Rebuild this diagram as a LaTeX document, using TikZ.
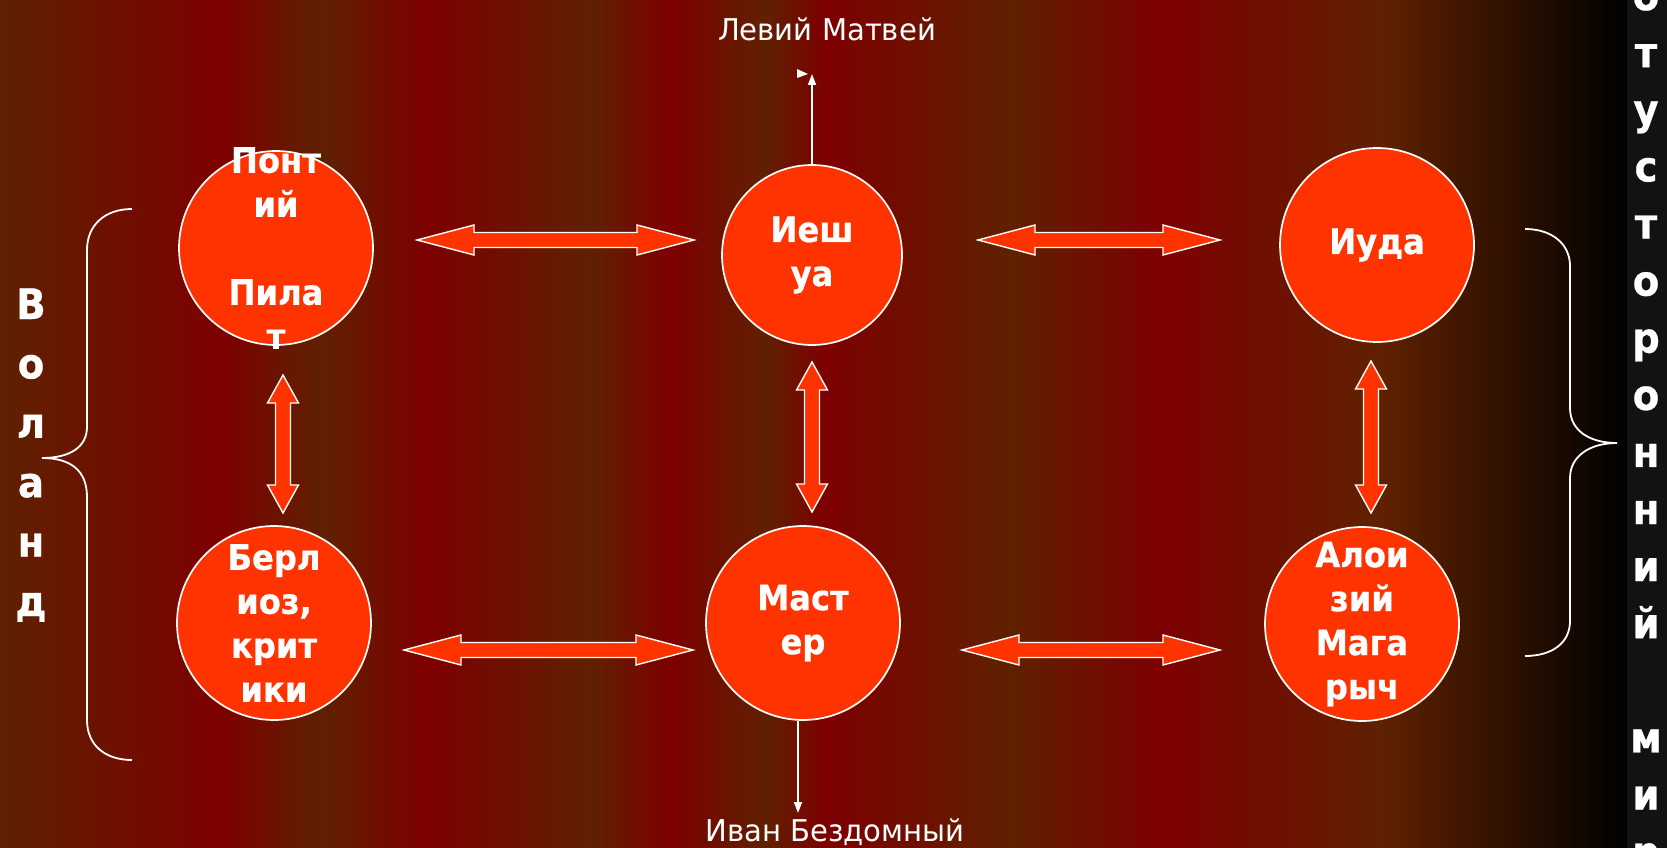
\documentclass[tikz,border=0pt]{standalone}
\usepackage{fontspec}
\usepackage{xcolor}
\usepackage{tikz}
\usetikzlibrary{arrows.meta,calc}
\newfontfamily\tahoma[FakeStretch=0.92,BoldFeatures={FakeBold=0.6}]{DejaVu Sans}
\newfontfamily\tahomareg[FakeStretch=0.97]{DejaVu Sans}
\definecolor{bgbrown}{RGB}{95,33,0}
\definecolor{bgred}{RGB}{125,0,0}
\definecolor{disc}{RGB}{255,51,0}
\definecolor{strip}{RGB}{18,18,18}
\tikzset{
  person/.style={circle,fill=disc,draw=white,line width=1.7pt,minimum size=194pt,inner sep=0pt},
  persontext/.style={text=white,align=center,font=\tahoma\bfseries\fontsize{35}{44}\selectfont},
  blockarrow/.style={fill=disc,draw=white,line width=1.4pt,line join=miter},
  wline/.style={white,line width=1.8pt},
  bigletter/.style={text=white,anchor=base,font=\tahoma\bfseries\fontsize{42}{42}\selectfont},
  caption/.style={text=white,anchor=base,font=\tahomareg\fontsize{30}{34}\selectfont}
}
% block arrows with two heads
\newcommand{\harrow}[2]{\draw[blockarrow] (#1) -- ($(#1)+(57,15)$) -- ($(#1)+(57,7.5)$)
  -- ($(#2)+(-57,7.5)$) -- ($(#2)+(-57,15)$) -- (#2) -- ($(#2)+(-57,-15)$) -- ($(#2)+(-57,-7.5)$)
  -- ($(#1)+(57,-7.5)$) -- ($(#1)+(57,-15)$) -- cycle;}
\newcommand{\varrow}[2]{\draw[blockarrow] (#1) -- ($(#1)+(15.5,28)$) -- ($(#1)+(7.5,28)$)
  -- ($(#2)+(7.5,-28)$) -- ($(#2)+(15.5,-28)$) -- (#2) -- ($(#2)+(-15.5,-28)$) -- ($(#2)+(-7.5,-28)$)
  -- ($(#1)+(-7.5,28)$) -- ($(#1)+(-15.5,28)$) -- cycle;}

\begin{document}
\begin{tikzpicture}[x=1pt,y=-1pt,>={Triangle[length=11pt,width=8pt]}]
\useasboundingbox (0,0) rectangle (1667,848);
% background stripes
\foreach \xa/\xb/\ca/\cb in {0/220/bgbrown/bgred,220/320/bgred/bgbrown,320/425/bgbrown/bgred,
  425/590/bgred/bgbrown,590/670/bgbrown/bgred,670/765/bgred/bgbrown,765/825/bgbrown/bgred,
  825/1010/bgred/bgbrown,1010/1160/bgbrown/bgred,1160/1382/bgred/bgbrown,1382/1627/bgbrown/black}
  \shade[left color=\ca,right color=\cb] (\xa,0) rectangle (\xb+1,848);
\fill[strip] (1627,0) rectangle (1667,848);

\node[person,label={[persontext]center:{Понт\\ий\\[44pt]Пила\\т}}] (pilat) at (276,248) {};
\node[person,minimum size=180pt,label={[persontext]center:{Иеш\\уа}}] (ieshua) at (812,255) {};
\node[person,label={[persontext]center:{Иуда}}] (iuda) at (1377,245) {};
\node[person,label={[persontext]center:{Берл\\иоз,\\крит\\ики}}] (berlioz) at (274,623) {};
\node[person,label={[persontext]center:{Маст\\ер}}] (master) at (803,623) {};
\node[person,label={[persontext]center:{Алои\\зий\\Мага\\рыч}}] (aloisy) at (1362,624) {};

\coordinate (pi-e) at (417,240); \coordinate (ie-w) at (694,240);
\coordinate (ie-e) at (978,240); \coordinate (iu-w) at (1220,240);
\coordinate (be-e) at (404,650); \coordinate (ma-w) at (693,650);
\coordinate (ma-e) at (962,650); \coordinate (al-w) at (1220,650);
\coordinate (pi-s) at (283,375); \coordinate (be-n) at (283,513);
\coordinate (ie-s) at (812,362); \coordinate (ma-n) at (812,512);
\coordinate (iu-s) at (1371,361); \coordinate (al-n) at (1371,513);
\harrow{pi-e}{ie-w}
\harrow{ie-e}{iu-w}
\harrow{be-e}{ma-w}
\harrow{ma-e}{al-w}
\varrow{pi-s}{be-n}
\varrow{ie-s}{ma-n}
\varrow{iu-s}{al-n}

\node[caption] (levi) at (827,41) {Левий Матвей};
\node[caption] (ivan) at (835,841) {Иван Бездомный};
\coordinate (levitip) at (812,74);
\coordinate (ivantip) at (798,813);
\draw[wline,->] (ieshua.north) -- (levitip);
\fill[white] (797,69) -- (808,74) -- (797,78) -- cycle;
\draw[wline,->] (master.south -| ivantip) -- (ivantip);

% braces
\draw[wline] (132,209) .. controls (105,209) and (87,225) .. (87,250) -- (87,427)
  .. controls (87,447) and (70,458) .. (42,458) .. controls (70,458) and (87,470) .. (87,497)
  -- (87,720) .. controls (87,745) and (105,760) .. (132,760);
\draw[wline] (1525,229) .. controls (1552,229) and (1570,244) .. (1570,266) -- (1570,408)
  .. controls (1570,431) and (1590,443) .. (1617,443) .. controls (1590,443) and (1570,456) .. (1570,478)
  -- (1570,621) .. controls (1570,643) and (1552,656) .. (1525,656);

\foreach \ch [count=\i from 0] in {В,о,л,а,н,д}
  \node[bigletter] (woland\i) at (31,319+59.4*\i) {\ch};
\foreach \ch [count=\i from 0] in {П,о,т,у,с,т,о,р,о,н,н,и,й,{},м,и,р}
  \node[bigletter] (beyond\i) at (1646,-47+57.1*\i) {\ch};
\end{tikzpicture}
\end{document}
